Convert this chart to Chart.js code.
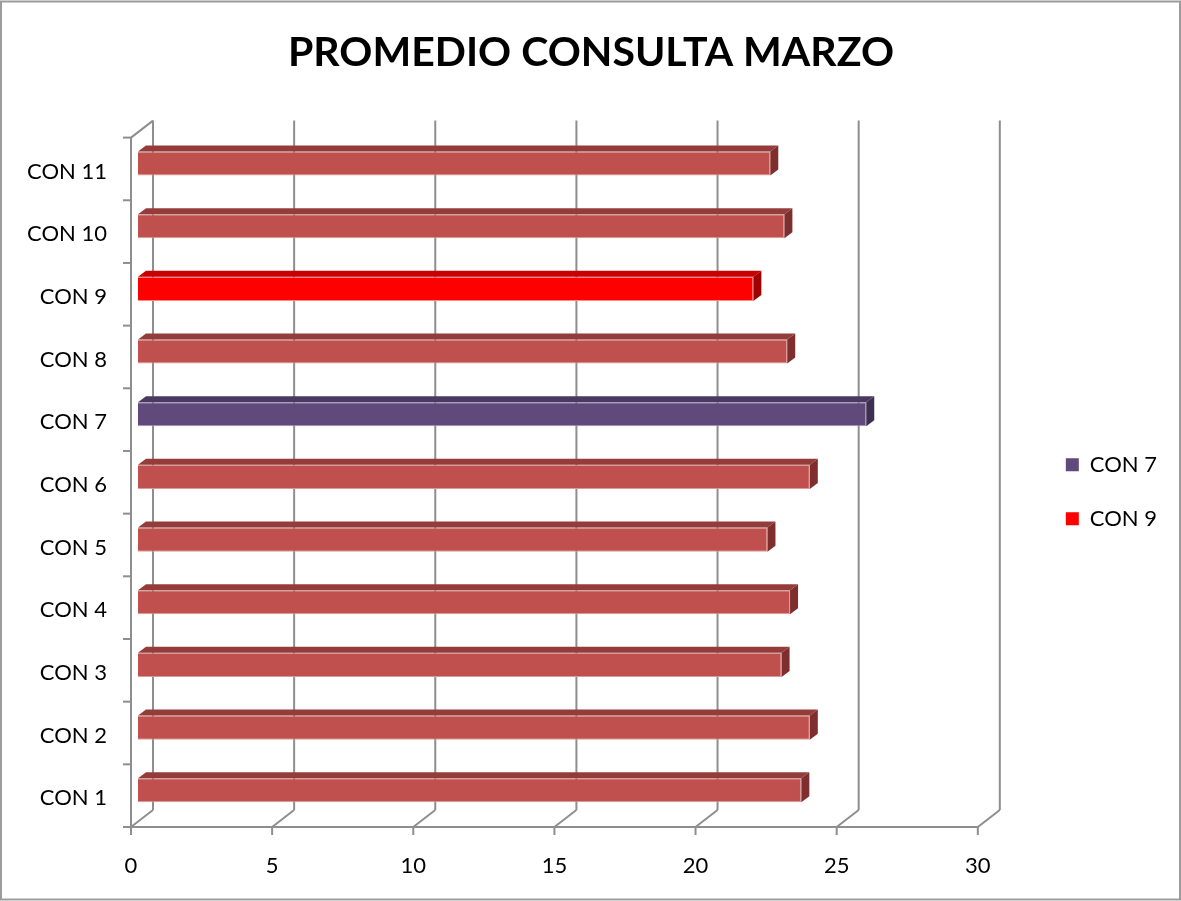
<!DOCTYPE html>
<html>
<head>
<meta charset="utf-8">
<title>Promedio consulta marzo</title>
<script src="https://cdn.jsdelivr.net/npm/chart.js@4"></script>
<style>
  body { margin: 0; background: #fff; }
  canvas { display: block; }
</style>
</head>
<body>
<canvas id="chart" width="1181" height="901"></canvas>
<script>
// values
const categories = ['CON 1', 'CON 2', 'CON 3', 'CON 4', 'CON 5', 'CON 6', 'CON 7', 'CON 8', 'CON 9', 'CON 10', 'CON 11']
const promedio = [23.5, 23.8, 22.8, 23.1, 22.3, 23.8, 25.8, 23.0, 21.8, 22.9, 22.4]
const xTicks = [0, 5, 10, 15, 20, 25, 30]
const legendNames = ['CON 7', 'CON 9']

// excel-ish colours: front / top / side / edge
const palette = {
  normal: ['#C0504D', '#943C3A', '#7E2F2D', '#DA9A98'],
  'CON 7': ['#604A7B', '#4A3A61', '#3D2F51', '#A493BA'],
  'CON 9': ['#FF0000', '#C80000', '#A00000', '#FF8A8A']
}
const colorsFor = (k) => categories.map(c => (palette[c] || palette.normal)[k])

const FONT = 'Lato'
const depth = { dx: 8, dy: -6 }        // bar depth
const front = { dx: -7, dy: 5.4 }      // front plane vs bar plane
const back = { dx: 15, dy: -11.6 }     // back wall vs bar plane
const lineCol = '#8e8e8e'

function line(ctx, x1, y1, x2, y2) {
  ctx.beginPath()
  ctx.moveTo(x1, y1)
  ctx.lineTo(x2, y2)
  ctx.stroke()
}

const frame = {
  id: 'frame',
  beforeDraw(chart) {
    const ctx = chart.ctx
    ctx.save()
    ctx.fillStyle = '#fff'
    ctx.fillRect(0, 0, chart.width, chart.height)
    ctx.strokeStyle = '#9c9c9c'
    ctx.lineWidth = 2
    ctx.strokeRect(1, 1.5, chart.width - 2, chart.height - 3)
    ctx.restore()
  },
  beforeDatasetsDraw(chart) {
    const { ctx, chartArea: { top, bottom }, scales: { x } } = chart
    ctx.save()
    ctx.strokeStyle = lineCol
    ctx.lineWidth = 2
    xTicks.forEach(v => {
      const px = x.getPixelForValue(v)
      line(ctx, px + back.dx, top + back.dy, px + back.dx, bottom + back.dy)
      line(ctx, px + front.dx, bottom + front.dy, px + back.dx, bottom + back.dy)
      line(ctx, px + front.dx, bottom + front.dy, px + front.dx, bottom + front.dy + 8)
    })
    const x0 = x.getPixelForValue(xTicks[0])
    const xN = x.getPixelForValue(xTicks[xTicks.length - 1])
    line(ctx, x0 + front.dx - 1, bottom + front.dy, xN + front.dx + 1, bottom + front.dy)
    line(ctx, x0 + front.dx, top + front.dy, x0 + front.dx, bottom + front.dy)
    line(ctx, x0 + front.dx, top + front.dy, x0 + back.dx, top + back.dy)
    const step = (bottom - top) / categories.length
    for (let k = 0; k <= categories.length; k++) {
      const yy = top + front.dy + k * step
      line(ctx, x0 + front.dx - 8, yy, x0 + front.dx, yy)
    }
    ctx.restore()
  },
  afterDatasetsDraw(chart) {
    const ctx = chart.ctx
    const meta = chart.getDatasetMeta(0)
    const tops = colorsFor(1)
    const sides = colorsFor(2)
    ctx.save()
    meta.data.forEach((bar, i) => {
      const p = bar.getProps(['x', 'y', 'base', 'height'], true)
      const l = Math.min(p.base, p.x), r = Math.max(p.base, p.x)
      const t = p.y - p.height / 2, b = p.y + p.height / 2
      ctx.fillStyle = tops[i]
      ctx.beginPath()
      ctx.moveTo(l, t); ctx.lineTo(l + depth.dx, t + depth.dy)
      ctx.lineTo(r + depth.dx, t + depth.dy); ctx.lineTo(r, t)
      ctx.closePath(); ctx.fill()
      ctx.fillStyle = sides[i]
      ctx.beginPath()
      ctx.moveTo(r, t); ctx.lineTo(r + depth.dx, t + depth.dy)
      ctx.lineTo(r + depth.dx, b + depth.dy); ctx.lineTo(r, b)
      ctx.closePath(); ctx.fill()
    })
    ctx.restore()
  }
}

new Chart(document.getElementById('chart'), {
  type: 'bar',
  data: {
    labels: categories,
    datasets: [{
      label: 'Promedio',
      data: promedio,
      backgroundColor: colorsFor(0),
      borderColor: colorsFor(3),
      borderWidth: 1,
      categoryPercentage: 1,
      barPercentage: 0.385
    }]
  },
  options: {
    indexAxis: 'y',
    responsive: false,
    animation: false,
    layout: { padding: { left: 15, right: 14, top: 0, bottom: 24 } },
    plugins: {
      title: {
        display: true,
        text: 'PROMEDIO CONSULTA MARZO',
        color: '#000',
        font: { family: FONT, size: 41, weight: 'bold' },
        padding: { top: 28, bottom: 55 }
      },
      legend: {
        position: 'right',
        title: { display: true, text: '', padding: { top: 0, bottom: 92 } },
        labels: {
          color: '#000',
          font: { family: FONT, size: 22 },
          boxWidth: 13,
          boxHeight: 13,
          padding: 32,
          generateLabels: () => legendNames.map(n => {
            const c = (palette[n] || palette.normal)[0]
            return { text: n, fillStyle: c, strokeStyle: c, lineWidth: 0, fontColor: '#000' }
          })
        }
      },
      tooltip: { enabled: false }
    },
    scales: {
      x: {
        min: xTicks[0],
        max: xTicks[xTicks.length - 1],
        ticks: { stepSize: xTicks[1] - xTicks[0], labelOffset: -7, padding: 31, color: '#000', font: { family: FONT, size: 22 } },
        grid: { display: false, drawTicks: false },
        border: { display: false },
        afterFit: (s) => { s.height = 55.4 }
      },
      y: {
        reverse: true,
        ticks: { labelOffset: 8, padding: 31, color: '#000', font: { family: FONT, size: 22 } },
        grid: { display: false, drawTicks: false },
        border: { display: false },
        afterFit: (s) => { s.width = 123 }
      },
      yPad: {
        position: 'right',
        type: 'linear',
        ticks: { display: false },
        grid: { display: false, drawTicks: false },
        border: { display: false },
        afterFit: (s) => { s.width = 49 }
      }
    }
  },
  plugins: [frame]
})
</script>
</body>
</html>
